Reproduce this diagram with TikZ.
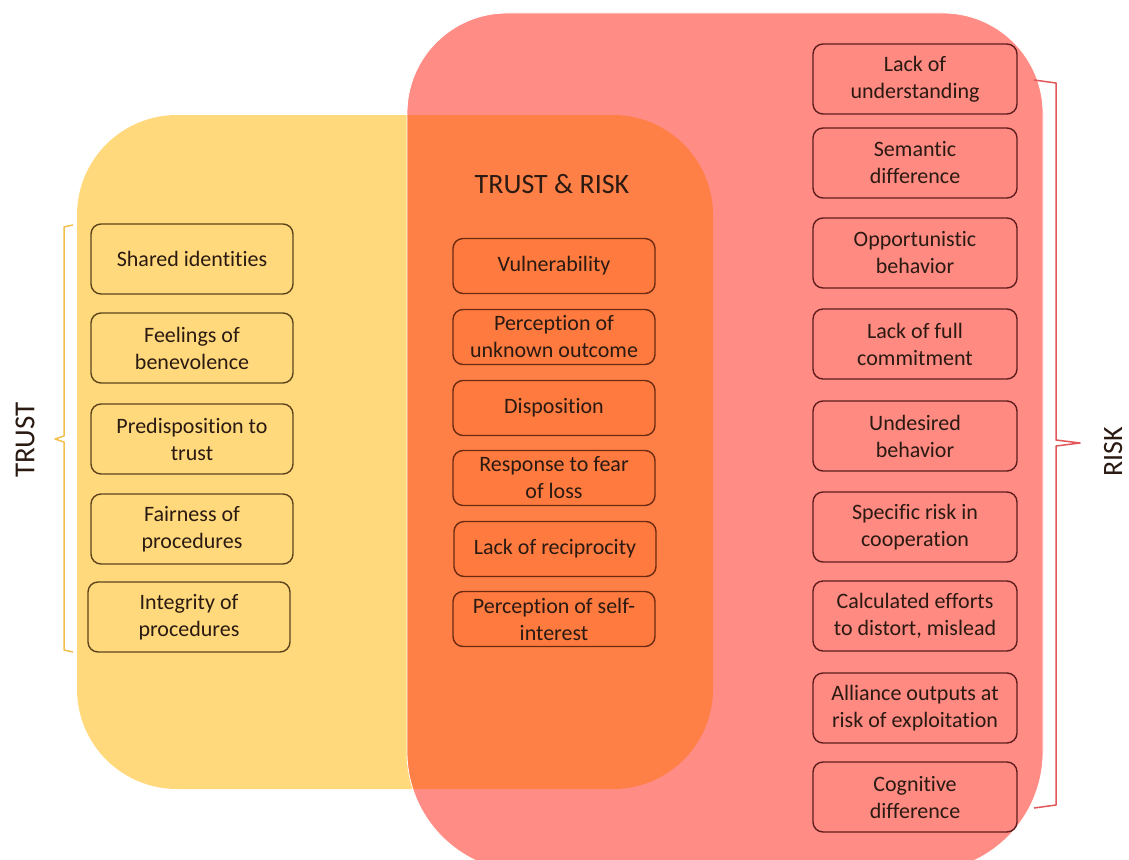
\documentclass[tikz,border=0pt]{standalone}
\usepackage{fontspec}
\setmainfont{Carlito}[Ligatures={NoCommon}]

\definecolor{trustfill}{HTML}{FFD97B}
\definecolor{riskfill}{HTML}{FF8C85}
\definecolor{bothfill}{HTML}{FF8046}
\definecolor{bothbox}{HTML}{FF7A3E}
\definecolor{riskbox}{HTML}{FF8A82}
\definecolor{trustline}{HTML}{5C451C}
\definecolor{bothline}{HTML}{6B2A12}
\definecolor{riskline}{HTML}{5E1E1E}
\definecolor{inktext}{HTML}{2A1A12}
\definecolor{trustbrace}{HTML}{F2C04C}
\definecolor{riskbrace}{HTML}{E2585A}

% outline of the big risk area (y runs downwards)
\def\riskoutline{(407,113) arc[start angle=180, end angle=270, radius=100]
	-- (943,13) arc[start angle=270, end angle=360, radius=100]
	-- (1043,752) arc[start angle=0, end angle=90, radius=120]
	-- (527,872) arc[start angle=90, end angle=180, radius=120] -- cycle}

\begin{document}
\begin{tikzpicture}[x=1pt,y=-1pt,
	item/.style={rounded corners=10, line width=1.4, align=center, text=inktext,
		minimum width=202, minimum height=70, font=\fontsize{22}{27}\selectfont},
	trustbox/.style={item, draw=trustline, fill=trustfill},
	bothbox/.style={item, draw=bothline, fill=bothbox, minimum height=55},
	riskbox/.style={item, draw=riskline, fill=riskbox, minimum width=204},
	sidelabel/.style={rotate=90, text=inktext, font=\fontsize{29}{32}\selectfont}]
				\clip (0,0) rectangle (1129,859);
				
				% the three areas
				\fill[trustfill, rounded corners=100] (77,115) rectangle (713,789);
				\fill[riskfill] \riskoutline;
				\begin{scope}
					\clip[rounded corners=100] (77,115) rectangle (713,789);
					\fill[bothfill] \riskoutline;
				\end{scope}
				\draw[white, line width=0.8] \riskoutline;
				
				\node[text=inktext, font=\fontsize{28}{32}\selectfont] (title) at (552,184) {TRUST \& RISK};
				
				% trust
				\node[trustbox] (shared) at (192,259) {Shared identities};
				\node[trustbox] (feelings) at (192,348) {Feelings of\\benevolence};
				\node[trustbox] (predisp) at (192,439) {Predisposition to\\trust};
				\node[trustbox] (fairness) at (192,529) {Fairness of\\procedures};
				\node[trustbox] (integrity) at (189,617) {Integrity of\\procedures};
				
				% trust and risk
				\node[bothbox] (vulner) at (554,266) {Vulnerability};
				\node[bothbox] (unknown) at (554,337) {Perception of\\unknown outcome};
				\node[bothbox] (dispos) at (554,408) {Disposition};
				\node[bothbox] (fear) at (554,478) {Response to fear\\of loss};
				\node[bothbox] (recipr) at (555,549) {Lack of reciprocity};
				\node[bothbox] (selfint) at (554,619) {Perception of self-\\interest};
				
				% risk
				\node[riskbox] (underst) at (915,79) {Lack of\\understanding};
				\node[riskbox] (semantic) at (915,163) {Semantic\\difference};
				\node[riskbox] (opport) at (915,253) {Opportunistic\\behavior};
				\node[riskbox] (commit) at (915,344) {Lack of full\\commitment};
				\node[riskbox] (undesired) at (915,436) {Undesired\\behavior};
				\node[riskbox] (specific) at (915,527) {Specific risk in\\cooperation};
				\node[riskbox] (distort) at (915,616) {Calculated efforts\\to distort, mislead};
				\node[riskbox] (alliance) at (915,708) {Alliance outputs at\\risk of exploitation};
				\node[riskbox] (cognitive) at (915,797) {Cognitive\\difference};
				
				% braces
				\draw[trustbrace, line width=1.5, line join=round] (73,225) -- (64,227) -- (64,436) -- (55,439) -- (64,442) -- (64,650) -- (73,652);
				\draw[riskbrace, line width=1.5, line join=round] (1034,80) -- (1056,83) -- (1056,440) -- (1080,443) -- (1056,446) -- (1056,805) -- (1034,808);
				\node[sidelabel] (trust) at (25,440) {TRUST};
				\node[sidelabel, font=\fontsize{28}{32}\selectfont] (risk) at (1113,452) {RISK};
\end{tikzpicture}
\end{document}
